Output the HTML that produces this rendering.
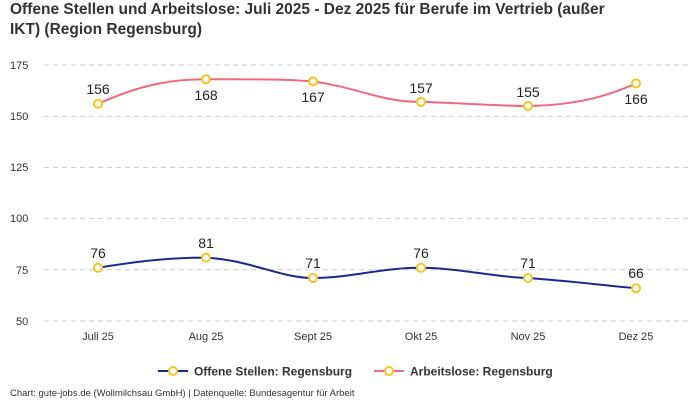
<!DOCTYPE html>
<html><head><meta charset="utf-8"><style>
body{margin:0;background:#fff;width:700px;height:400px;overflow:hidden;font-family:"Liberation Sans",sans-serif}
</style></head><body>
<svg width="700" height="400" xmlns="http://www.w3.org/2000/svg" font-family="Liberation Sans, sans-serif">
<text x="10" y="14" font-size="15.5" font-weight="bold" fill="#333">Offene Stellen und Arbeitslose: Juli 2025 - Dez 2025 für Berufe im Vertrieb (außer</text>
<text x="10" y="34" font-size="15.5" font-weight="bold" fill="#333">IKT) (Region Regensburg)</text>
<g stroke="#ccc" stroke-dasharray="5,4" stroke-width="1">
<line x1="44" x2="690" y1="65" y2="65"/><line x1="44" x2="690" y1="116.2" y2="116.2"/><line x1="44" x2="690" y1="167.4" y2="167.4"/><line x1="44" x2="690" y1="218.6" y2="218.6"/><line x1="44" x2="690" y1="269.8" y2="269.8"/><line x1="44" x2="690" y1="321" y2="321"/>
</g>
<g font-size="11" fill="#333">
<text x="10" y="69">175</text><text x="10" y="120">150</text><text x="10" y="171">125</text><text x="10" y="222">100</text><text x="16" y="274">75</text><text x="16" y="325">50</text>
</g>
<g font-size="11" fill="#333" text-anchor="middle">
<text x="98" y="340">Juli 25</text><text x="206" y="340">Aug 25</text><text x="313" y="340">Sept 25</text><text x="421" y="340">Okt 25</text><text x="528" y="340">Nov 25</text><text x="636" y="340">Dez 25</text>
</g>
<path d="M98,103.9 C140,85 170,79.3 206,79.3 C250,79.3 280,79 313,81.4 C360,88 380,101.9 421,101.9 C460,103 500,106 528,106 C580,105 610,95 636,83.4" fill="none" stroke="#f4687f" stroke-width="2"/>
<path d="M98,267.8 C140,261 170,257.6 206,257.6 C250,260 280,278 313,278 C350,278 380,267.8 421,267.8 C460,268 500,278 528,278 C570,281 600,285 636,288.2" fill="none" stroke="#1a2a8c" stroke-width="2"/>
<g fill="#fff" stroke="#f7c51e" stroke-width="2">
<circle cx="98" cy="103.9" r="4"/><circle cx="206" cy="79.3" r="4"/><circle cx="313" cy="81.4" r="4"/><circle cx="421" cy="101.9" r="4"/><circle cx="528" cy="106" r="4"/><circle cx="636" cy="83.4" r="4"/>
<circle cx="98" cy="267.8" r="4"/><circle cx="206" cy="257.6" r="4"/><circle cx="313" cy="278" r="4"/><circle cx="421" cy="267.8" r="4"/><circle cx="528" cy="278" r="4"/><circle cx="636" cy="288.2" r="4"/>
</g>
<g font-size="14" fill="#222" text-anchor="middle">
<text x="98" y="94">156</text><text x="206" y="100">168</text><text x="313" y="102">167</text><text x="421" y="93">157</text><text x="528" y="97">155</text><text x="636" y="104">166</text>
<text x="98" y="258">76</text><text x="206" y="248">81</text><text x="313" y="268">71</text><text x="421" y="258">76</text><text x="528" y="268">71</text><text x="636" y="278">66</text>
</g>
<line x1="158" x2="188" y1="371" y2="371" stroke="#1a2a8c" stroke-width="2"/>
<circle cx="173" cy="371" r="4" fill="#fff" stroke="#f7c51e" stroke-width="2"/>
<text x="194" y="375.5" font-size="12" font-weight="bold" fill="#333">Offene Stellen: Regensburg</text>
<line x1="374" x2="404" y1="371" y2="371" stroke="#f4687f" stroke-width="2"/>
<circle cx="389" cy="371" r="4" fill="#fff" stroke="#f7c51e" stroke-width="2"/>
<text x="410" y="375.5" font-size="12" font-weight="bold" fill="#333">Arbeitslose: Regensburg</text>
<text x="10" y="396" font-size="9.5" fill="#333">Chart: gute-jobs.de (Wollmilchsau GmbH) | Datenquelle: Bundesagentur für Arbeit</text>
</svg>
</body></html>
